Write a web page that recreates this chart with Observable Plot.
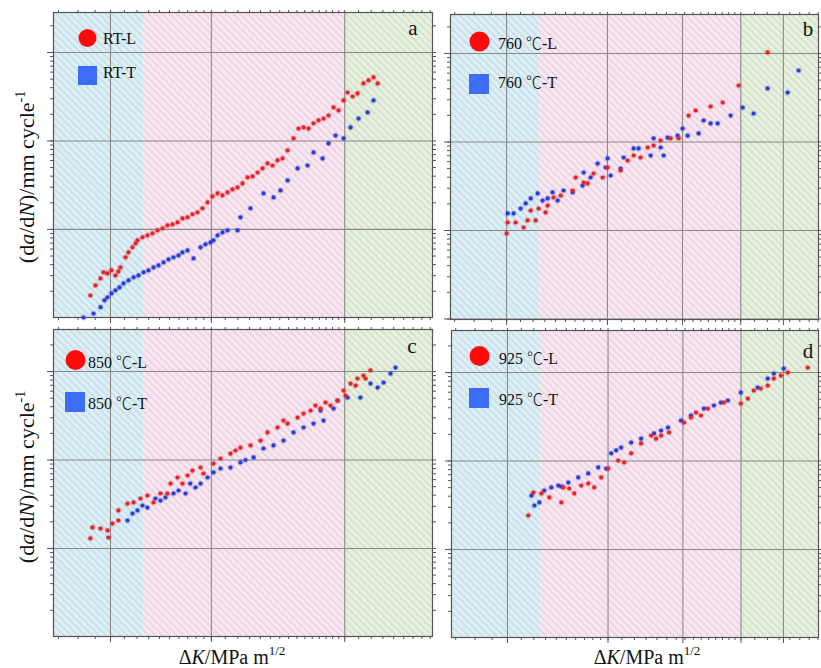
<!DOCTYPE html>
<html>
<head>
<meta charset="utf-8">
<script src="https://cdn.jsdelivr.net/npm/d3@7"></script>
<script src="https://cdn.jsdelivr.net/npm/@observablehq/plot@0.6"></script>
<style>
html,body{margin:0;padding:0;background:#fff;overflow:hidden}
#root{position:relative;width:821px;height:668px;overflow:hidden;background:#fff}
#root svg.panel{position:absolute}
#overlay{position:absolute;left:0;top:0;pointer-events:none}
</style>
</head>
<body>
<div id="root"></div>
<script>
// ΔK (MPa·m^1/2) and da/dN (mm/cycle)
const rtL_dK = [8.71, 9.02, 9.34, 9.53, 9.80, 10.07, 10.35, 10.56, 10.71, 11.09, 11.32, 11.63, 11.88, 12.04, 12.46, 12.89, 13.35, 13.81, 14.30, 14.79, 15.31, 15.85, 16.40, 16.98, 17.57, 18.18, 18.82, 19.48, 20.16, 20.87, 21.59, 22.35, 23.13, 23.94, 24.77, 25.64, 26.54, 27.47, 28.43, 29.42, 30.45, 31.51, 32.62, 33.76, 35.18, 36.41, 37.68, 38.99, 40.36, 41.77, 43.23, 44.74, 46.32, 47.93, 49.61, 51.0, 52.8, 54.6, 56.9, 58.9, 60.95, 62.7];
const rtL_rate = [1.79e-6, 2.33e-6, 2.79e-6, 3.27e-6, 3.18e-6, 3.44e-6, 3.02e-6, 3.35e-6, 3.72e-6, 4.83e-6, 5.50e-6, 6.27e-6, 6.95e-6, 7.52e-6, 8.13e-6, 8.55e-6, 9.02e-6, 9.75e-6, 1.03e-5, 1.11e-5, 1.14e-5, 1.20e-5, 1.33e-5, 1.37e-5, 1.48e-5, 1.56e-5, 1.73e-5, 2.02e-5, 2.36e-5, 2.55e-5, 2.42e-5, 2.62e-5, 2.83e-5, 2.98e-5, 3.31e-5, 3.87e-5, 3.97e-5, 4.40e-5, 4.89e-5, 5.57e-5, 5.28e-5, 6.03e-5, 6.34e-5, 7.82e-5, 1.07e-4, 1.38e-4, 1.42e-4, 1.38e-4, 1.58e-4, 1.71e-4, 1.79e-4, 1.94e-4, 2.39e-4, 2.21e-4, 2.87e-4, 3.53e-4, 3.18e-4, 3.44e-4, 4.47e-4, 4.83e-4, 5.22e-4, 4.47e-4];
const rtT_dK = [8.31, 8.90, 9.34, 9.60, 9.80, 10.07, 10.35, 10.64, 10.94, 11.32, 11.72, 12.12, 12.55, 12.98, 13.44, 13.91, 14.40, 14.90, 15.42, 15.96, 16.40, 16.98, 17.69, 18.57, 19.21, 19.88, 20.30, 20.87, 21.59, 22.35, 23.94, 24.43, 26.17, 28.62, 30.66, 32.17, 33.76, 36.16, 38.73, 40.36, 42.94, 44.74, 46.96, 49.61, 52.05, 55.0, 58.5, 60.95];
const rtT_rate = [1.01e-6, 1.12e-6, 1.32e-6, 1.58e-6, 1.71e-6, 1.89e-6, 2.05e-6, 2.21e-6, 2.45e-6, 2.65e-6, 2.87e-6, 3.02e-6, 3.27e-6, 3.44e-6, 3.72e-6, 3.92e-6, 4.24e-6, 4.58e-6, 4.83e-6, 5.08e-6, 5.50e-6, 5.79e-6, 4.70e-6, 6.27e-6, 6.78e-6, 7.13e-6, 7.52e-6, 8.55e-6, 9.25e-6, 9.75e-6, 9.75e-6, 1.37e-5, 1.73e-5, 2.55e-5, 2.30e-5, 2.76e-5, 3.58e-5, 4.89e-5, 5.28e-5, 7.41e-5, 6.34e-5, 9.38e-5, 1.15e-4, 1.07e-4, 1.42e-4, 1.79e-4, 2.10e-4, 2.87e-4];

const t760L_dK = [10.0, 10.07, 10.64, 11.24, 11.55, 11.80, 12.21, 12.46, 13.07, 13.26, 13.81, 14.50, 15.74, 16.07, 16.98, 17.45, 18.18, 19.35, 20.02, 21.89, 22.97, 23.94, 25.12, 26.36, 27.47, 28.82, 30.87, 32.62, 34.94, 36.66, 40.64, 44.15, 49.27, 60.1];
const t760L_rate = [9.25e-6, 1.23e-5, 1.23e-5, 1.08e-5, 1.30e-5, 1.68e-5, 1.30e-5, 1.77e-5, 1.60e-5, 1.91e-5, 2.36e-5, 2.48e-5, 2.83e-5, 3.97e-5, 3.48e-5, 3.40e-5, 4.40e-5, 3.97e-5, 5.15e-5, 4.76e-5, 6.18e-5, 7.04e-5, 6.68e-5, 8.67e-5, 9.12e-5, 1.04e-4, 1.10e-4, 1.10e-4, 1.99e-4, 2.27e-4, 2.52e-4, 2.79e-4, 4.35e-4, 1.03e-3];
const t760T_dK = [10.07, 10.49, 11.01, 11.40, 11.80, 12.38, 12.81, 13.26, 13.72, 14.20, 14.79, 15.74, 16.86, 16.98, 17.81, 18.69, 19.75, 20.02, 20.44, 21.89, 22.35, 23.94, 24.77, 26.91, 27.47, 28.82, 29.42, 30.24, 32.39, 33.52, 34.70, 37.42, 38.73, 40.64, 42.65, 46.64, 50.66, 54.6, 60.1, 69.0, 74.4];
const t760T_rate = [1.56e-5, 1.56e-5, 1.77e-5, 2.02e-5, 2.30e-5, 2.62e-5, 2.18e-5, 2.30e-5, 2.69e-5, 2.18e-5, 2.83e-5, 2.69e-5, 3.22e-5, 4.52e-5, 3.97e-5, 5.71e-5, 5.15e-5, 6.52e-5, 4.18e-5, 5.02e-5, 6.68e-5, 8.45e-5, 8.45e-5, 7.04e-5, 1.10e-4, 8.67e-5, 7.04e-5, 1.12e-4, 1.18e-4, 1.42e-4, 1.18e-4, 1.25e-4, 1.75e-4, 1.62e-4, 1.62e-4, 1.99e-4, 2.45e-4, 2.10e-4, 4.03e-4, 3.62e-4, 6.43e-4];

const t850L_dK = [8.71, 8.84, 9.34, 9.80, 9.86, 10.14, 10.56, 10.56, 11.24, 11.72, 12.29, 12.89, 13.44, 14.10, 14.79, 15.11, 15.85, 16.40, 16.98, 17.57, 18.57, 18.95, 20.30, 21.30, 22.81, 23.61, 24.43, 26.17, 28.04, 29.42, 31.51, 32.84, 33.76, 36.16, 37.68, 39.54, 40.92, 42.36, 43.84, 45.37, 47.60, 49.61, 50.29, 52.05, 53.9, 54.6, 56.9, 57.7, 59.7];
const t850L_rate = [1.30e-5, 1.73e-5, 1.68e-5, 1.60e-5, 1.33e-5, 1.91e-5, 2.07e-5, 2.69e-5, 3.22e-5, 3.31e-5, 3.67e-5, 3.97e-5, 3.31e-5, 4.18e-5, 4.18e-5, 5.42e-5, 6.34e-5, 5.42e-5, 6.68e-5, 7.60e-5, 8.22e-5, 7.04e-5, 9.12e-5, 1.04e-4, 1.18e-4, 1.28e-4, 1.38e-4, 1.46e-4, 1.66e-4, 2.05e-4, 2.33e-4, 2.79e-4, 2.58e-4, 3.02e-4, 3.35e-4, 3.62e-4, 4.13e-4, 3.82e-4, 4.47e-4, 4.13e-4, 4.70e-4, 6.10e-4, 5.36e-4, 7.31e-4, 6.95e-4, 8.34e-4, 9.01e-4, 8.34e-4, 1.03e-3];
const t850T_dK = [11.24, 11.63, 12.04, 12.46, 12.89, 13.62, 14.10, 14.59, 15.42, 15.96, 16.75, 17.30, 17.93, 18.57, 19.48, 20.30, 21.30, 22.81, 24.43, 25.29, 26.73, 28.62, 30.66, 32.84, 35.18, 37.68, 40.36, 42.36, 43.23, 46.32, 47.60, 51.0, 55.7, 59.7, 62.7, 65.3, 68.5, 70.9];
const t850T_rate = [2.07e-5, 2.48e-5, 2.69e-5, 3.06e-5, 2.90e-5, 3.67e-5, 3.48e-5, 3.77e-5, 4.18e-5, 4.52e-5, 4.18e-5, 5.42e-5, 4.89e-5, 5.42e-5, 6.34e-5, 7.23e-5, 8.02e-5, 8.22e-5, 9.38e-5, 1.00e-4, 1.07e-4, 1.35e-4, 1.46e-4, 1.66e-4, 2.05e-4, 2.33e-4, 2.58e-4, 3.62e-4, 2.79e-4, 3.82e-4, 4.70e-4, 5.08e-4, 5.08e-4, 7.31e-4, 6.59e-4, 7.51e-4, 9.49e-4, 1.11e-3];

const t925L_dK = [11.55, 11.96, 12.64, 13.35, 14.50, 14.70, 15.31, 15.85, 16.63, 17.45, 18.18, 19.08, 20.02, 21.45, 22.35, 23.45, 25.12, 26.91, 27.85, 28.82, 30.45, 33.76, 35.42, 36.66, 37.94, 39.81, 44.45, 49.95, 52.4, 54.6, 57.3, 60.1, 62.7, 65.8, 69.0, 79.2];
const t925L_rate = [2.42e-5, 4.40e-5, 4.30e-5, 3.87e-5, 3.40e-5, 5.02e-5, 4.89e-5, 4.30e-5, 5.28e-5, 5.57e-5, 5.02e-5, 6.52e-5, 8.22e-5, 1.01e-4, 9.62e-5, 1.22e-4, 1.58e-4, 1.94e-4, 1.79e-4, 1.94e-4, 2.10e-4, 2.72e-4, 3.10e-4, 3.53e-4, 3.27e-4, 3.92e-4, 4.58e-4, 4.47e-4, 5.08e-4, 6.26e-4, 6.59e-4, 7.13e-4, 8.55e-4, 9.25e-4, 1.0e-3, 1.14e-3];
const t925T_dK = [11.80, 12.04, 12.46, 12.89, 13.53, 14.20, 14.50, 15.21, 16.29, 17.45, 18.69, 19.75, 20.44, 21.15, 21.89, 23.45, 25.12, 27.47, 28.82, 30.24, 33.07, 35.42, 38.73, 41.49, 43.54, 45.68, 49.95, 56.1, 60.1, 62.7, 67.1];
const t925T_rate = [4.07e-5, 3.14e-5, 3.40e-5, 4.64e-5, 5.02e-5, 5.28e-5, 5.15e-5, 5.71e-5, 6.52e-5, 7.23e-5, 8.45e-5, 8.22e-5, 1.22e-4, 1.32e-4, 1.42e-4, 1.62e-4, 1.79e-4, 2.05e-4, 2.21e-4, 2.39e-4, 2.87e-4, 3.27e-4, 3.92e-4, 4.24e-4, 4.58e-4, 4.83e-4, 5.94e-4, 6.76e-4, 8.55e-4, 9.74e-4, 1.11e-3];

const seriesLabels = ["RT-L", "RT-T", "760 ℃-L", "760 ℃-T", "850 ℃-L", "850 ℃-T", "925 ℃-L", "925 ℃-T"];
const panelLetters = ["a", "b", "c", "d"];
const regionBounds = [12.6, 50];          // region boundaries in ΔK
const yGridValues = [1e-6, 1e-5, 1e-4, 1e-3];
const xGridAC = [10, 20, 50];
const xGridBD = [10, 20, 33.5, 50, 67];
const xMinorTicks = [7, 8, 9, 10, 11, 12, 13, 14, 15, 16, 17, 18, 19, 20, 22, 24, 26, 28, 30, 32, 34, 36, 38, 40, 42, 44, 46, 48, 50, 55, 60, 65, 70, 75, 80, 85, 90];

const RED = "#e3262b", BLUE = "#2c3fd4";

const panels = [
  {left: 47, top: 6, width: 391, height: 317, xd: [6.76, 91.4], yd: [1.01e-6, 2.83e-3], grid: xGridAC, L: [rtL_dK, rtL_rate], T: [rtT_dK, rtT_rate]},
  {left: 444, top: 8, width: 380, height: 317, xd: [6.80, 85.3], yd: [9.86e-7, 2.76e-3], grid: xGridBD, L: [t760L_dK, t760L_rate], T: [t760T_dK, t760T_rate]},
  {left: 47, top: 323, width: 391, height: 319, xd: [6.76, 91.4], yd: [1.01e-6, 2.99e-3], grid: xGridAC, L: [t850L_dK, t850L_rate], T: [t850T_dK, t850T_rate]},
  {left: 445, top: 324, width: 379, height: 319, xd: [6.80, 85.3], yd: [1.01e-6, 2.99e-3], grid: xGridBD, L: [t925L_dK, t925L_rate], T: [t925T_dK, t925T_rate]}
];

const yMinorTicks = [];
for (let e = -7; e <= -2; e++) for (let m = 1; m <= 9; m++) yMinorTicks.push(m * Math.pow(10, e));

const root = document.getElementById("root");
const NS = "http://www.w3.org/2000/svg";
const toRows = ([k, r]) => k.map((v, j) => ({dK: v, rate: r[j]}));

panels.forEach((p, i) => {
  const m = 6;
  const [x0, x1] = p.xd, [y0, y1] = p.yd;
  const xt = xMinorTicks.filter(v => v >= x0 && v <= x1);
  const yt = yMinorTicks.filter(v => v >= y0 && v <= y1);
  const yMaj = yGridValues.filter(v => v >= y0 && v <= y1);
  const none = () => "";
  const axStyle = {stroke: "#555", tickFormat: none, label: null};
  const svg = Plot.plot({
    width: p.width, height: p.height,
    marginTop: m, marginRight: m, marginBottom: m, marginLeft: m,
    x: {type: "log", domain: p.xd, label: null},
    y: {type: "log", domain: p.yd, label: null},
    style: {background: "transparent", overflow: "visible"},
    marks: [
      Plot.rect([0], {x1: x0, x2: regionBounds[0], y1: y0, y2: y1, fill: "#dbf0f8"}),
      Plot.rect([0], {x1: regionBounds[0], x2: regionBounds[1], y1: y0, y2: y1, fill: "#fce6f3"}),
      Plot.rect([0], {x1: regionBounds[1], x2: x1, y1: y0, y2: y1, fill: "#e6f2dd"}),
      Plot.rect([0], {x1: x0, x2: x1, y1: y0, y2: y1, fill: `url(#hatch${i})`}),
      Plot.ruleX(p.grid, {stroke: "#8a8a8a", strokeWidth: 1.1}),
      Plot.ruleY(yMaj, {stroke: "#8a8a8a", strokeWidth: 1.1}),
      Plot.axisX({anchor: "bottom", ticks: xt, tickSize: 3, ...axStyle}),
      Plot.axisX({anchor: "bottom", ticks: p.grid, tickSize: 6, ...axStyle}),
      Plot.axisX({anchor: "top", ticks: xt, tickSize: 3, ...axStyle}),
      Plot.axisY({anchor: "left", ticks: yt, tickSize: 3, ...axStyle}),
      Plot.axisY({anchor: "left", ticks: yMaj, tickSize: 6, ...axStyle}),
      Plot.axisY({anchor: "right", ticks: yt, tickSize: 3, ...axStyle}),
      Plot.frame({stroke: "#555", strokeWidth: 1.2}),
      Plot.dot(toRows(p.T), {x: "dK", y: "rate", r: 2.1, fill: BLUE, stroke: BLUE, strokeOpacity: 0.2, strokeWidth: 2}),
      Plot.dot(toRows(p.L), {x: "dK", y: "rate", r: 2.1, fill: RED, stroke: RED, strokeOpacity: 0.2, strokeWidth: 2})
    ]
  });
  // hatch pattern
  const defs = document.createElementNS(NS, "defs");
  const pat = document.createElementNS(NS, "pattern");
  pat.setAttribute("id", `hatch${i}`);
  pat.setAttribute("width", "5");
  pat.setAttribute("height", "5");
  pat.setAttribute("patternUnits", "userSpaceOnUse");
  pat.setAttribute("patternTransform", "rotate(-45)");
  const ln = document.createElementNS(NS, "line");
  ln.setAttribute("x1", "1"); ln.setAttribute("y1", "0");
  ln.setAttribute("x2", "1"); ln.setAttribute("y2", "5");
  ln.setAttribute("stroke", "#808080");
  ln.setAttribute("stroke-opacity", "0.22");
  ln.setAttribute("stroke-width", "1.4");
  pat.appendChild(ln); defs.appendChild(pat);
  svg.insertBefore(defs, svg.firstChild);
  svg.classList.add("panel");
  svg.style.left = p.left + "px";
  svg.style.top = p.top + "px";
  root.appendChild(svg);
});

// Overlay: legends, panel letters, axis titles
const legendPos = [
  {cx: 87.5, cy: 38, r: 9, sx: 78, sy: 66, s: 19, tx: 103, tyL: 44, tyT: 78},
  {cx: 479.5, cy: 41.5, r: 10, sx: 469, sy: 74, s: 20, tx: 498, tyL: 49, tyT: 88},
  {cx: 75.5, cy: 360, r: 10, sx: 65, sy: 392, s: 20, tx: 88, tyL: 368, tyT: 409},
  {cx: 479.5, cy: 356, r: 10, sx: 469, sy: 388, s: 20, tx: 499, tyL: 364, tyT: 405}
];
const letterPos = [[413, 35], [808, 36], [412, 353], [808, 358]];
let ov = `<svg id="overlay" width="821" height="668" xmlns="${NS}" font-family="'Liberation Serif','Times New Roman','DejaVu Serif',serif" fill="#111">`;
const fmt = s => s.replace("℃", `<tspan font-family="'Noto Sans CJK SC'" font-weight="300">℃</tspan>`);
legendPos.forEach((g, i) => {
  ov += `<circle cx="${g.cx}" cy="${g.cy}" r="${g.r}" fill="#ff0a0a"/>`;
  ov += `<rect x="${g.sx}" y="${g.sy}" width="${g.s}" height="${g.s}" fill="#3d6cf6"/>`;
  ov += `<text x="${g.tx}" y="${g.tyL}" font-size="16">${fmt(seriesLabels[2 * i])}</text>`;
  ov += `<text x="${g.tx}" y="${g.tyT}" font-size="16">${fmt(seriesLabels[2 * i + 1])}</text>`;
  ov += `<text x="${letterPos[i][0]}" y="${letterPos[i][1]}" font-size="21" text-anchor="middle">${panelLetters[i]}</text>`;
});
[177, 477].forEach(cy => {
  ov += `<text transform="translate(34,${cy}) rotate(-90)" text-anchor="middle" font-size="22">(d<tspan font-style="italic">a</tspan>/d<tspan font-style="italic">N</tspan>)/mm cycle<tspan dy="-9" font-size="14">-1</tspan></text>`;
});
[232, 647].forEach(cx => {
  ov += `<text x="${cx}" y="664" text-anchor="middle" font-size="20">Δ<tspan font-style="italic">K</tspan>/MPa m<tspan dy="-9" font-size="13">1/2</tspan></text>`;
});
ov += `</svg>`;
root.insertAdjacentHTML("beforeend", ov);
</script>
</body>
</html>
